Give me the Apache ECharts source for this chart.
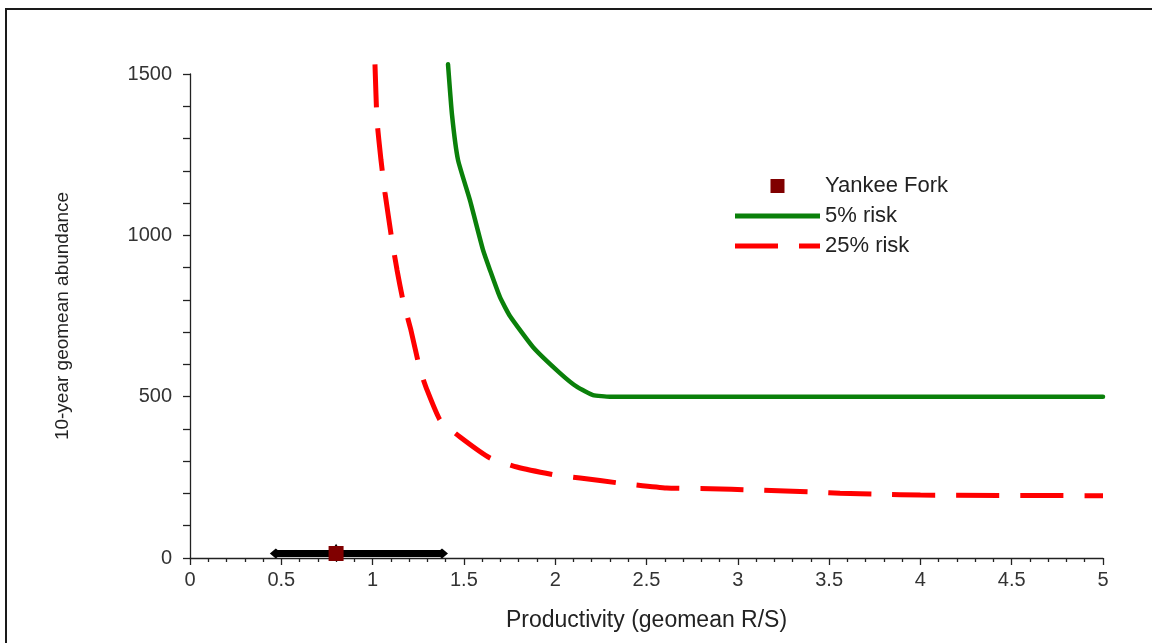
<!DOCTYPE html>
<html>
<head>
<meta charset="utf-8">
<script src="https://cdn.jsdelivr.net/npm/echarts@6/dist/echarts.min.js"></script>
<style>
  html, body { margin: 0; padding: 0; background: #fff; }
  #chart { width: 1152px; height: 643px; }
</style>
</head>
<body>
<div id="chart"></div>
<script>
// ---- data ----
const risk5X  = [1.413, 1.435, 1.468, 1.533, 1.605, 1.643, 1.697, 1.752, 1.878, 2.026, 2.12, 2.207, 2.3, 5.0];
const risk5Y  = [1530, 1373, 1233, 1109, 954, 892, 809, 750, 654, 573, 530, 505, 500, 500];

const risk25X = [1.013, 1.024, 1.046, 1.068, 1.106, 1.134, 1.166, 1.21, 1.26, 1.298, 1.369, 1.479, 1.643, 1.79, 2.0, 2.136, 2.355, 2.61, 2.85, 3.08, 3.44, 3.56, 3.78, 4.0, 5.0];
const risk25Y = [1530, 1357, 1233, 1131, 985, 892, 800, 706, 583, 521, 428, 375, 310, 282, 257, 248, 232, 217, 215, 211, 204, 201, 198, 195, 193];

const yankeeX = [0.8];
const yankeeY = [14];
const yankeeRangeX = [0.47, 1.38];   // horizontal uncertainty bar
const yankeeUpperY = [30];           // small marker above the point

const seriesNames = ['Yankee Fork', '5% risk', '25% risk'];
const xTitle = 'Productivity (geomean R/S)';
const yTitle = '10-year geomean abundance';

// ---- chart ----
const zip = (xs, ys) => xs.map((x, i) => [x, ys[i]]);
const FONT = '"Liberation Sans", Arial, sans-serif';

const chart = echarts.init(document.getElementById('chart'), null, { renderer: 'canvas' });
chart.setOption({
  animation: false,
  backgroundColor: '#ffffff',
  grid: { left: 190, right: 49, top: 74, bottom: 85, containLabel: false },
  graphic: [{
    type: 'rect',
    shape: { x: 6, y: 9, width: 1170, height: 680 },
    style: { fill: 'none', stroke: '#1a1a1a', lineWidth: 2 },
    silent: true, z: 100
  }],
  legend: {
    data: [
      { name: seriesNames[0], icon: 'path://M0,0h10v10h-10z' },
      { name: seriesNames[1], icon: 'path://M0,0h85v5h-85z' },
      { name: seriesNames[2], icon: 'path://M0,0h43v5h-43zM64,0h21v5h-21z' }
    ],
    orient: 'vertical',
    left: 730,
    top: 170,
    itemWidth: 85,
    itemHeight: 14,
    itemGap: 8,
    symbolKeepAspect: true,
    textStyle: { fontFamily: FONT, fontSize: 22, color: '#222', lineHeight: 22 }
  },
  xAxis: {
    type: 'value',
    min: 0, max: 5, interval: 0.5,
    name: xTitle,
    nameLocation: 'middle',
    nameGap: 51,
    nameTextStyle: { fontFamily: FONT, fontSize: 23, color: '#222' },
    axisLine: { show: true, onZero: false, lineStyle: { color: '#222', width: 1.3 } },
    axisTick: { show: true, inside: false, length: 7, lineStyle: { color: '#222', width: 1.3 } },
    minorTick: { show: true, splitNumber: 5, length: 4, lineStyle: { color: '#222', width: 1.3 } },
    axisLabel: { fontFamily: FONT, fontSize: 20, color: '#333', margin: 12 },
    splitLine: { show: false }
  },
  yAxis: {
    type: 'value',
    min: 0, max: 1500, interval: 500,
    name: yTitle,
    nameLocation: 'middle',
    nameRotate: 90,
    nameGap: 118,
    nameTextStyle: { fontFamily: FONT, fontSize: 19, color: '#222' },
    axisLine: { show: true, onZero: false, lineStyle: { color: '#222', width: 1.3 } },
    axisTick: { show: true, inside: false, length: 7, lineStyle: { color: '#222', width: 1.3 } },
    minorTick: { show: true, splitNumber: 5, length: 7, lineStyle: { color: '#222', width: 1.3 } },
    axisLabel: { fontFamily: FONT, fontSize: 20, color: '#333', margin: 18, formatter: v => String(v) },
    splitLine: { show: false }
  },
  series: [
    {
      name: 'range',
      type: 'line',
      data: zip(yankeeRangeX, [yankeeY[0], yankeeY[0]]),
      symbol: 'diamond',
      symbolSize: [12, 10],
      showSymbol: true,
      itemStyle: { color: '#000' },
      lineStyle: { color: '#000', width: 7 },
      clip: false,
      z: 3,
      silent: true
    },
    {
      name: 'upper',
      type: 'scatter',
      data: zip(yankeeX, yankeeUpperY),
      symbol: 'triangle',
      symbolSize: [11, 9],
      itemStyle: { color: '#000', opacity: 1 },
      clip: false,
      z: 3,
      silent: true
    },
    {
      name: seriesNames[0],
      type: 'scatter',
      data: zip(yankeeX, yankeeY),
      symbol: 'rect',
      symbolSize: 15,
      itemStyle: { color: '#800000', opacity: 1 },
      clip: false,
      z: 4
    },
    {
      name: seriesNames[1],
      type: 'line',
      data: zip(risk5X, risk5Y),
      symbol: 'none',
      smooth: 0.15,
      clip: false,
      lineStyle: { color: '#0a800a', width: 4.5, cap: 'round', join: 'round' },
      itemStyle: { color: '#0a800a' },
      z: 2
    },
    {
      name: seriesNames[2],
      type: 'line',
      data: zip(risk25X, risk25Y),
      symbol: 'none',
      smooth: 0.15,
      clip: false,
      lineStyle: { color: '#ff0000', width: 5, type: [43, 21], cap: 'butt' },
      itemStyle: { color: '#ff0000' },
      z: 2
    }
  ]
});
</script>
</body>
</html>
